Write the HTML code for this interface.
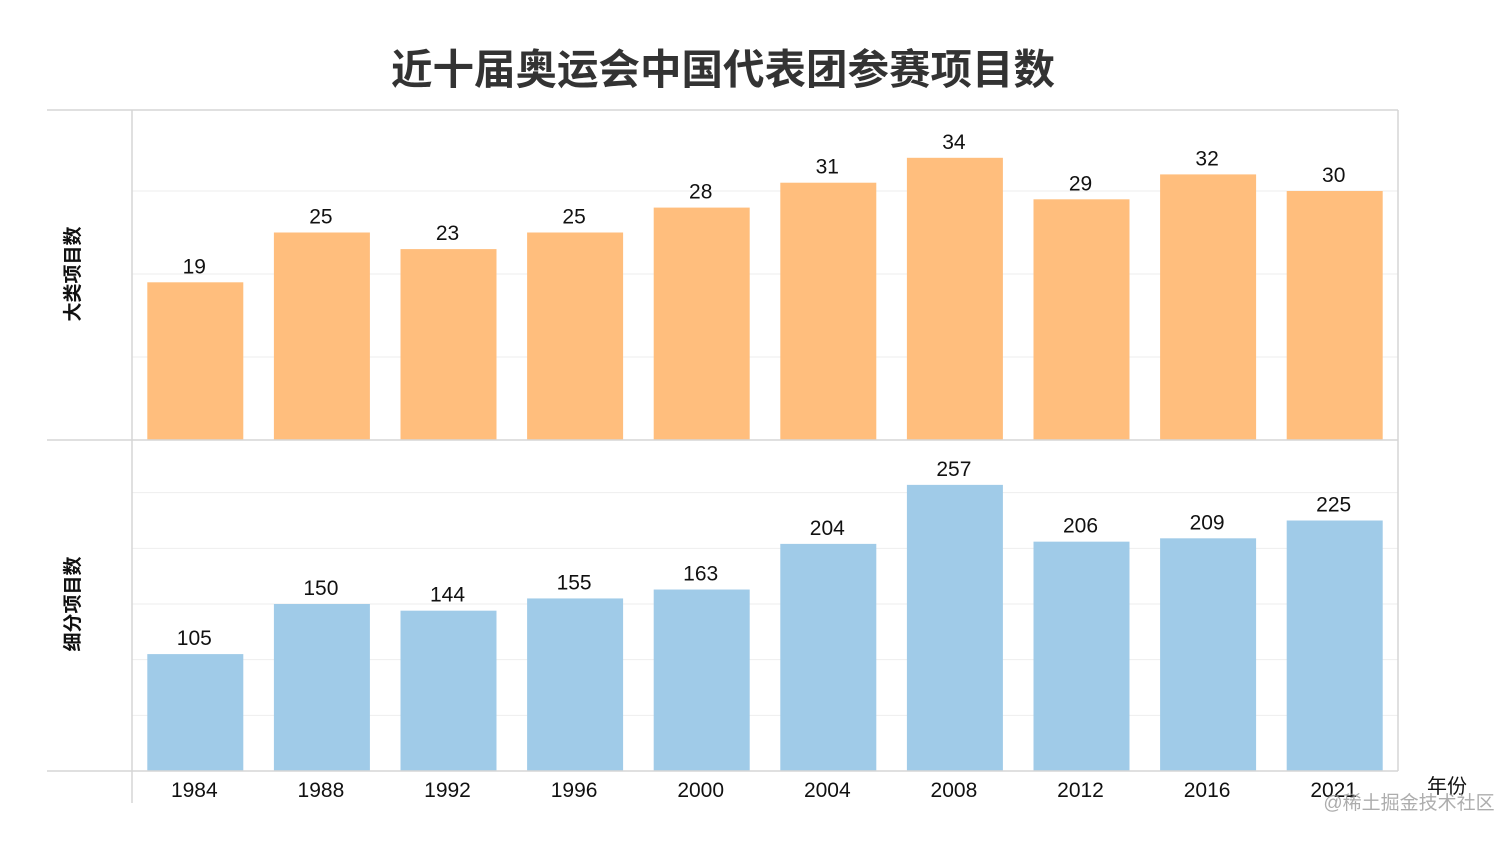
<!DOCTYPE html>
<html><head><meta charset="utf-8"><style>
body{margin:0;background:#fff;width:1512px;height:836px;overflow:hidden}
svg text{font-family:"Liberation Sans","Noto Sans CJK SC",sans-serif}
</style></head><body>
<svg id="c" width="1512" height="836">
<text x="723" y="84" text-anchor="middle" font-size="41.5" font-weight="bold" fill="#333">近十届奥运会中国代表团参赛项目数</text>
<g id="g"></g>
<text x="1447" y="793" text-anchor="middle" font-size="20" fill="#111">年份</text>
<text x="1409" y="809" text-anchor="middle" font-size="19" fill="#999" opacity="0.8">@稀土掘金技术社区</text>
</svg>
<script>
const years=["1984","1988","1992","1996","2000","2004","2008","2012","2016","2021"];
const majorCounts=[19,25,23,25,28,31,34,29,32,30];
const detailCounts=[105,150,144,155,163,204,257,206,209,225];
const majorTicks=[10,20,30];
const detailTicks=[50,100,150,200,250];
const NS="http://www.w3.org/2000/svg";
const g=document.getElementById('g');
function mk(t,a){const e=document.createElementNS(NS,t);for(const k in a)e.setAttribute(k,a[k]);g.appendChild(e);return e;}
const x0=132,x1=1398,bw=(x1-x0)/years.length,barW=96;
const xc=i=>x0+bw*(i+0.5);
function panel(vals,ticks,top,base,max,color,title,name){
  const y=v=>base-(base-top)*v/max;
  ticks.forEach(t=>{const l=mk('line',{x1:x0,x2:x1,y1:y(t),y2:y(t),stroke:'#eee','stroke-width':1});
    
    });
  vals.forEach((v,i)=>{
    const r=mk('rect',{x:xc(i)-barW/2,y:y(v),width:barW,height:base-y(v),fill:color});
    
    
    const t=mk('text',{x:xc(i)-1,y:y(v)-9,'text-anchor':'middle','font-size':21,fill:'#111'});
    t.textContent=v;
    
    
  });
  const yt=mk('text',{transform:`translate(79,${(top+base)/2}) rotate(-90)`,'text-anchor':'middle','font-size':19,'font-weight':'bold',fill:'#111'});
  yt.textContent=title;
  
  
}
panel(majorCounts,majorTicks,108,440,40,'#ffbe7d','大类项目数','major');
panel(detailCounts,detailTicks,437,771,300,'#a0cbe8','细分项目数','detail');
[[47,x1,110,110],[47,x1,440,440],[47,x1,771,771]].forEach(a=>{const l=mk('line',{x1:a[0],x2:a[1],y1:a[2],y2:a[3],stroke:'#d6d6d6','stroke-width':1.5});
  
  });
[[x0,110,803],[x1,110,771]].forEach(a=>{const l=mk('line',{x1:a[0],x2:a[0],y1:a[1],y2:a[2],stroke:'#d6d6d6','stroke-width':1.5});
  
  });
years.forEach((yr,i)=>{const t=mk('text',{x:xc(i)-1,y:797,'text-anchor':'middle','font-size':21,fill:'#111'});
  t.textContent=yr;
  
  });
</script>
</body></html>
